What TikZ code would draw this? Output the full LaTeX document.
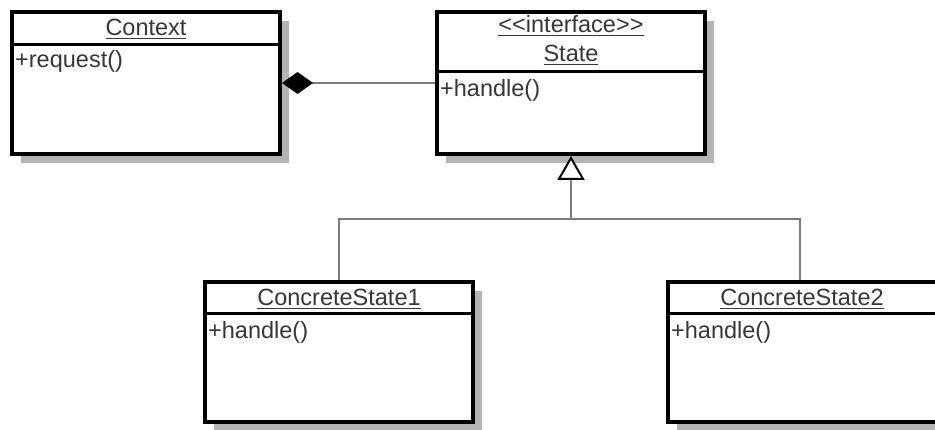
\documentclass[tikz,border=0pt]{standalone}
\usepackage{fontspec}
\setmainfont{Liberation Sans}
\usetikzlibrary{arrows.meta,shadows}
\definecolor{txtgray}{RGB}{55,55,55}
\definecolor{conngray}{RGB}{125,125,125}
\definecolor{shadowgray}{RGB}{180,180,180}
\newcommand\myul[1]{\setbox0\hbox{#1}\rlap{\color{txtgray}\rule[-3.4pt]{\wd0}{1.6pt}}\box0}
\begin{document}
\begin{tikzpicture}[x=1pt,y=-1pt,
  classbox/.style={draw=black, line width=4pt, fill=white, rectangle, inner sep=0pt,
    minimum width=268pt, minimum height=142pt,
    drop shadow={shadow xshift=9pt, shadow yshift=-9pt, fill=shadowgray, opacity=1}},
  sepline/.style={draw=black, line width=3pt},
  conn/.style={draw=conngray, line width=2.5pt},
  txt/.style={inner sep=0pt, text=txtgray, font=\fontsize{23.5}{28}\selectfont},
  title/.style={txt, anchor=base},
  member/.style={txt, anchor=base west}]
\useasboundingbox (0,0) rectangle (935,430);
\clip (0,0) rectangle (935,430);
\fill[white] (0,0) rectangle (935,430);

% class boxes
\node[classbox] (ctx) at (146,83) {};
\node[classbox] (state) at (571,83) {};
\node[classbox, minimum height=140pt] (cs1) at (339,352) {};
\node[classbox, minimum height=140pt, minimum width=272pt] (cs2) at (804,352) {};

% header separators
\draw[sepline] (12,45) -- (280,45);
\draw[sepline] (437,72) -- (705,72);
\draw[sepline] (205,314) -- (473,314);
\draw[sepline] (668,314) -- (940,314);

% texts
\node[title] (ctxname) at (146,36) {\myul{Context}};
\node[member] (ctxop) at (15,68) {+request()};
\node[title] (stereo) at (571,33) {\myul{<{}<interface>{}>}};
\node[title] (statename) at (571,62) {\myul{State}};
\node[member] (stateop) at (440,97) {+handle()};
\node[title] (cs1name) at (339,306) {\myul{ConcreteState1}};
\node[member] (cs1op) at (208,339) {+handle()};
\node[title] (cs2name) at (802,306) {\myul{ConcreteState2}};
\node[member] (cs2op) at (671,339) {+handle()};

% composition
\draw[conn, {Diamond[length=31pt,width=22pt,fill=black,color=black]}-] (ctx.east) -- (state.west);

% generalization
\coordinate (junc) at (571,219);
\draw[conn, -{Triangle[open,length=24pt,width=27pt,fill=white,color=black,line width=2pt]}] (junc) -- (state.south);
\draw[conn] (cs1.north) |- (junc);
\draw[conn] (junc) -| ([xshift=-4pt]cs2.north);
\end{tikzpicture}
\end{document}
